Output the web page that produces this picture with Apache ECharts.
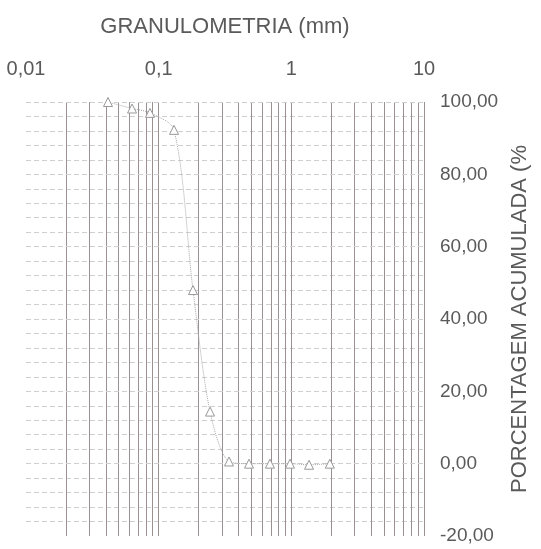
<!DOCTYPE html>
<html>
<head>
<meta charset="utf-8">
<script src="https://cdn.jsdelivr.net/npm/echarts@6/dist/echarts.min.js"></script>
<style>html,body{margin:0;padding:0;background:#fff;}#c{width:541px;height:549px;}</style>
</head>
<body>
<div id="c"></div>
<script>
// Data
var grainSize = [0.0415, 0.063, 0.086, 0.1305, 0.1815, 0.244, 0.339, 0.48, 0.69, 0.977, 1.36, 1.95];
var cumulativePct = [100, 98.2, 97, 92.3, 48, 14.4, 0.6, 0, 0, 0, -0.3, 0];
var xTickLabels = ['0,01', '0,1', '1', '10'];
var yTickValues = [-20, 0, 20, 40, 60, 80, 100];
var verticalGridValues = [0.02,0.03,0.04,0.05,0.06,0.07,0.08,0.09,0.1,
                          0.2,0.3,0.4,0.5,0.6,0.7,0.8,0.9,1,
                          2,3,4,5,6,7,8,9,10];
var xTitle = 'GRANULOMETRIA (mm)';
var yTitle = 'PORCENTAGEM ACUMULADA (%';

var chart = echarts.init(document.getElementById('c'), null, {renderer: 'canvas'});
var pts = grainSize.map(function (x, i) { return [x, cumulativePct[i]]; });
var textColor = '#5a5a5a';
var font = 'Liberation Sans, Arial, sans-serif';
var hLine = {color: '#cfcfcf', width: 1, type: [5, 3]};

chart.setOption({
  animation: false,
  backgroundColor: '#ffffff',
  grid: {left: 26, right: 117, top: 102, bottom: 13, containLabel: false},
  xAxis: {
    type: 'log', logBase: 10, min: 0.01, max: 10, position: 'top',
    name: xTitle, nameLocation: 'middle', nameGap: 64,
    nameTextStyle: {color: textColor, fontSize: 22, fontFamily: font},
    axisLine: {show: false}, axisTick: {show: false},
    axisLabel: {color: textColor, fontSize: 20, fontFamily: font, margin: 23,
      formatter: function (v) {
        var idx = Math.round(Math.log10(v)) + 2;
        return xTickLabels[idx] !== undefined ? xTickLabels[idx] : '';
      }},
    splitLine: {show: false},
    minorTick: {show: false}, minorSplitLine: {show: false}
  },
  yAxis: {
    type: 'value', min: yTickValues[0], max: yTickValues[yTickValues.length - 1], interval: 20,
    position: 'right',
    name: yTitle, nameLocation: 'middle', nameGap: 85, nameRotate: 90,
    nameTextStyle: {color: textColor, fontSize: 22, fontFamily: font, padding: [0, 0, 0, 0]},
    axisLine: {show: false}, axisTick: {show: false},
    axisLabel: {color: textColor, fontSize: 19, fontFamily: font, margin: 16,
      formatter: function (v) { return v.toFixed(2).replace('.', ','); }},
    splitLine: {show: false},
    minorTick: {show: false, splitNumber: 5},
    minorSplitLine: {show: true, lineStyle: hLine}
  },
  series: [{
    type: 'line',
    data: pts,
    smooth: 0.3,
    symbol: 'triangle',
    symbolSize: 9,
    itemStyle: {color: '#ffffff', borderColor: '#999999', borderWidth: 1},
    lineStyle: {color: '#a8a8a8', width: 1, type: 'dotted'},
    markLine: {
      silent: true, symbol: 'none', label: {show: false},
      lineStyle: {color: '#9a9090', width: 1, type: 'solid'},
      data: verticalGridValues.map(function (v) { return {xAxis: v}; })
        .concat(yTickValues.slice(1).map(function (v) {
          return {yAxis: v, lineStyle: hLine};
        }))
    },
    z: 5
  }]
});
</script>
</body>
</html>
